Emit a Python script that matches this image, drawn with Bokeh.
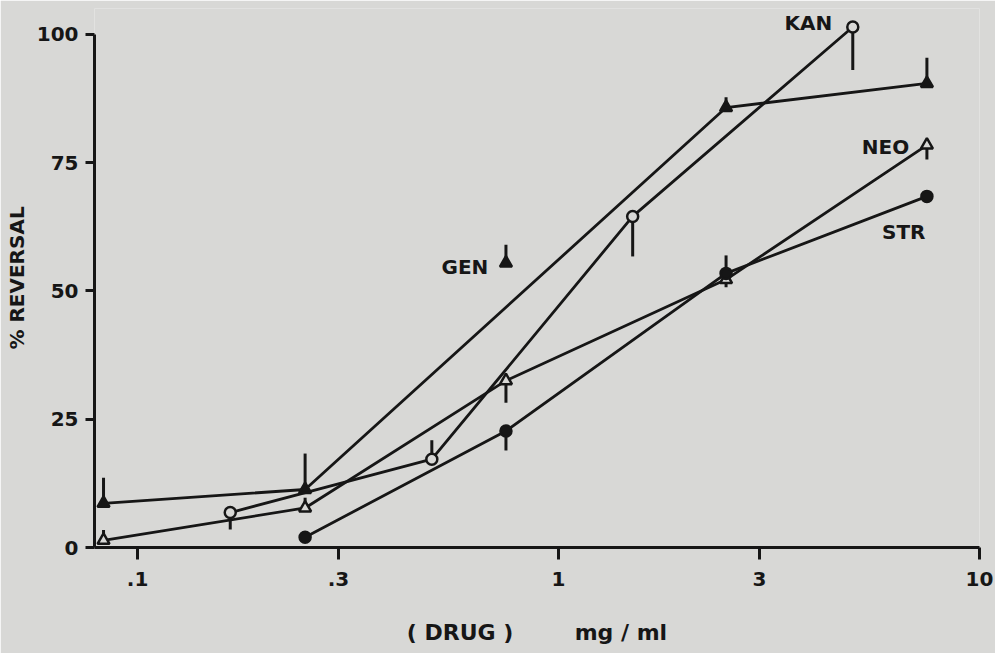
from bokeh.plotting import figure
from bokeh.models import FixedTicker, Range1d
from bokeh.core.properties import value
from bokeh.embed import file_html
from bokeh.resources import INLINE

# ---------------- data ----------------
# drug concentration (mg/ml) and % reversal; err = one-sided error bar (+ up, - down)
gen_conc = [0.083, 0.25, 2.5, 7.5]
gen_rev = [8.6, 11.3, 85.7, 90.4]
gen_err = [5.0, 7.0, 2.0, 5.0]

kan_conc = [0.166, 0.5, 1.5, 5.0]
kan_rev = [6.8, 17.2, 64.5, 101.4]
kan_err = [-3.3, 3.7, -7.8, -8.4]

neo_conc = [0.083, 0.25, 0.75, 2.5, 7.5]
neo_rev = [1.4, 7.7, 32.5, 52.2, 78.4]
neo_err = [2.0, 2.0, -4.3, -1.5, -2.8]

str_conc = [0.25, 0.75, 2.5, 7.5]
str_rev = [2.0, 22.7, 53.4, 68.4]
str_err = [0.0, -3.8, 3.5, 0.0]

x_ticks = [0.1, 0.3, 1, 3, 10]
x_tick_labels = [".1", ".3", "1", "3", "10"]
y_ticks = [0, 25, 50, 75, 100]

series_names = ["KAN", "NEO", "STR", "GEN"]
# key marker drawn next to the GEN label
gen_key_conc = [0.75]
gen_key_rev = [55.4]
gen_key_err = [3.6]

# ---------------- styling ----------------
BG = "#d8d8d6"
INK = "#161616"
FONT = "DejaVu Sans"
LW = 2.8

p = figure(width=995, height=653, x_axis_type="log",
           x_range=Range1d(0.079, 10), y_range=Range1d(0, 105),
           output_backend="svg", toolbar_location=None,
           min_border_left=94, min_border_right=16, min_border_top=8, min_border_bottom=106,
           background_fill_color=BG, border_fill_color=BG, outline_line_color=None)
p.grid.visible = False

# x axis
xa = p.xaxis[0]
xa.ticker = FixedTicker(ticks=x_ticks)
xa.major_label_overrides = {t: l for t, l in zip(x_ticks, x_tick_labels)}
xa.minor_tick_line_color = None
xa.axis_line_width = 3
xa.axis_line_color = INK
xa.major_tick_line_width = 3
xa.major_tick_line_color = INK
xa.major_tick_out = 12
xa.major_tick_in = 0
xa.major_label_standoff = 12
xa.major_label_text_font = FONT
xa.major_label_text_font_style = "bold"
xa.major_label_text_font_size = "20px"
xa.major_label_text_color = INK
xa.axis_label = "( DRUG )" + "\u00a0" * 7 + " mg / ml"
xa.axis_label_text_font = FONT
xa.axis_label_text_font_style = "bold"
xa.axis_label_text_font_size = "22px"
xa.axis_label_text_color = INK
xa.axis_label_standoff = 31

# y axis
ya = p.yaxis[0]
ya.ticker = FixedTicker(ticks=y_ticks)
ya.bounds = (0, 100)
ya.minor_tick_line_color = None
ya.axis_line_width = 3
ya.axis_line_color = INK
ya.major_tick_line_width = 3
ya.major_tick_line_color = INK
ya.major_tick_out = 9
ya.major_tick_in = 0
ya.major_label_standoff = 7
ya.major_label_text_font = FONT
ya.major_label_text_font_style = "bold"
ya.major_label_text_font_size = "20px"
ya.major_label_text_color = INK
ya.axis_label = "% REVERSAL"
ya.axis_label_text_font = FONT
ya.axis_label_text_font_style = "bold"
ya.axis_label_text_font_size = "20px"
ya.axis_label_text_color = INK
ya.axis_label_standoff = 5

series = [
    (gen_conc, gen_rev, gen_err, "triangle", INK),
    (kan_conc, kan_rev, kan_err, "circle", BG),
    (neo_conc, neo_rev, neo_err, "triangle", BG),
    (str_conc, str_rev, str_err, "circle", INK),
]

for xs, ys, es, _, _ in series:
    p.line(xs, ys, line_width=LW, line_color=INK)

for xs, ys, es, _, _ in series:
    p.segment(x0=xs, y0=ys, x1=xs, y1=[y + e for y, e in zip(ys, es)],
              line_width=3, line_color=INK)
p.segment(x0=gen_key_conc, y0=gen_key_rev, x1=gen_key_conc,
          y1=[y + e for y, e in zip(gen_key_rev, gen_key_err)], line_width=3, line_color=INK)

for xs, ys, es, marker, fill in series:
    size = 11 if marker == "circle" else 12
    p.scatter(xs, ys, marker=marker, size=size, fill_color=fill,
              line_color=INK, line_width=2.5)
p.scatter(gen_key_conc, gen_key_rev, marker="triangle", size=12,
          fill_color=INK, line_color=INK, line_width=2.5)

# series labels (right-aligned anchors)
label_x = [4.47, 6.81, 7.44, 0.681]
label_y = [102.1, 78.0, 61.4, 54.6]
p.text(x=label_x, y=label_y, text=series_names, text_align="right",
       text_baseline="middle", text_font=value(FONT), text_font_style="bold",
       text_font_size="20px", text_color=INK)

open("out.html", "w").write(file_html(p, INLINE))
